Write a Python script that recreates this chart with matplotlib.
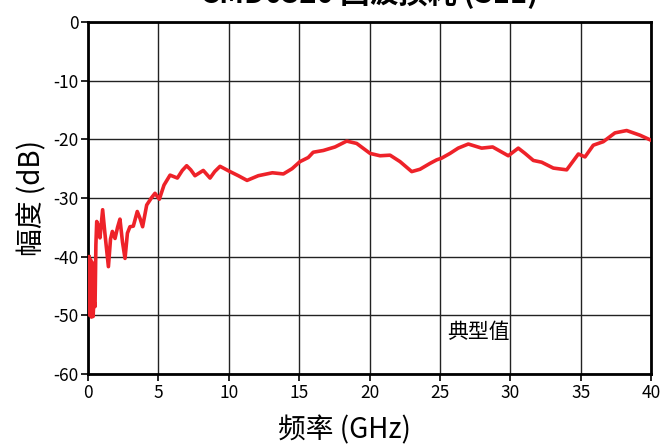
import matplotlib
matplotlib.use("Agg")
import matplotlib.pyplot as plt

plt.rcParams['font.family'] = ['Noto Sans CJK SC', 'DejaVu Sans']
plt.rcParams['axes.unicode_minus'] = False

# S11 return loss
freq_ghz = [0.08, 0.12, 0.18, 0.24, 0.3, 0.36, 0.42, 0.5, 0.56, 0.62, 0.7, 0.85,
            1.04, 1.2, 1.45, 1.6, 1.73, 1.92, 2.1, 2.27, 2.45, 2.63, 2.8, 2.98,
            3.22, 3.5, 3.7, 3.88, 4.17, 4.5, 4.76, 5.07, 5.4, 5.83, 6.35, 6.7,
            7.01, 7.3, 7.6, 8.19, 8.67, 9.0, 9.38, 10.09, 10.68, 11.3, 12.1,
            13.1, 13.88, 14.5, 15.06, 15.65, 16.0, 16.72, 17.55, 18.38, 19.09,
            20.04, 20.75, 21.46, 22.17, 23.0, 23.59, 24.3, 24.77, 25.13, 25.72,
            26.3, 27.02, 27.97, 28.75, 29.86, 30.57, 31.05, 31.64, 32.23, 33.06,
            34.01, 34.84, 35.31, 35.9, 36.61, 37.44, 38.27, 39.22, 39.95]
s11_db = [-40.0, -50.0, -40.5, -50.3, -41.0, -50.2, -47.5, -48.5, -38.0, -34.0,
          -34.5, -36.8, -32.0, -36.0, -41.7, -37.0, -35.7, -36.9, -35.0, -33.6,
          -37.5, -40.3, -36.0, -34.9, -34.8, -32.3, -33.5, -34.9, -31.2, -30.0,
          -29.2, -30.2, -27.8, -26.1, -26.6, -25.3, -24.5, -25.2, -26.2, -25.3,
          -26.6, -25.5, -24.6, -25.5, -26.2, -27.0, -26.2, -25.7, -25.9, -25.0,
          -23.8, -23.1, -22.2, -21.9, -21.3, -20.3, -20.7, -22.4, -22.8, -22.7,
          -23.8, -25.5, -25.1, -24.1, -23.5, -23.2, -22.4, -21.5, -20.8, -21.5,
          -21.3, -22.8, -21.5, -22.4, -23.6, -23.9, -24.9, -25.2, -22.5, -23.0,
          -21.0, -20.4, -18.9, -18.5, -19.3, -20.1]

x_ticks = [0, 5, 10, 15, 20, 25, 30, 35, 40]
y_ticks = [0, -10, -20, -30, -40, -50, -60]

fig = plt.figure(figsize=(6.67, 4.45), dpi=100)
ax = fig.add_axes([88 / 667, 1 - 374 / 445, (651 - 88) / 667, (374 - 22) / 445])

ax.plot(freq_ghz, s11_db, color='#ee2229', lw=2.6, solid_joinstyle='round', zorder=3)

ax.set_xlim(0, 40)
ax.set_ylim(-60, 0)
ax.set_xticks(x_ticks)
ax.set_yticks(y_ticks)
ax.grid(True, color='#222222', lw=1.0)
for s in ax.spines.values():
    s.set_linewidth(2.0)
    s.set_color('black')
ax.tick_params(direction='out', length=5, width=1.2, labelsize=12.5, pad=2)

ax.set_xlabel('频率 (GHz)', fontsize=20)
ax.xaxis.set_label_coords(0.456, -0.159, transform=ax.transAxes)
ax.xaxis.label.set_va('center')
ax.set_ylabel('幅度 (dB)', fontsize=20, labelpad=4)
ax.text(25.5, -52.8, '典型值', fontsize=15, va='center', ha='left')

# title is cropped at the top of the reference image
fig.text((88 + 651) / 2 / 667, 1 - 3 / 445, 'CMD0320 回波损耗 (S11)',
         fontsize=21, fontweight='bold', ha='center', va='baseline')

fig.savefig('out.png', dpi=100)
